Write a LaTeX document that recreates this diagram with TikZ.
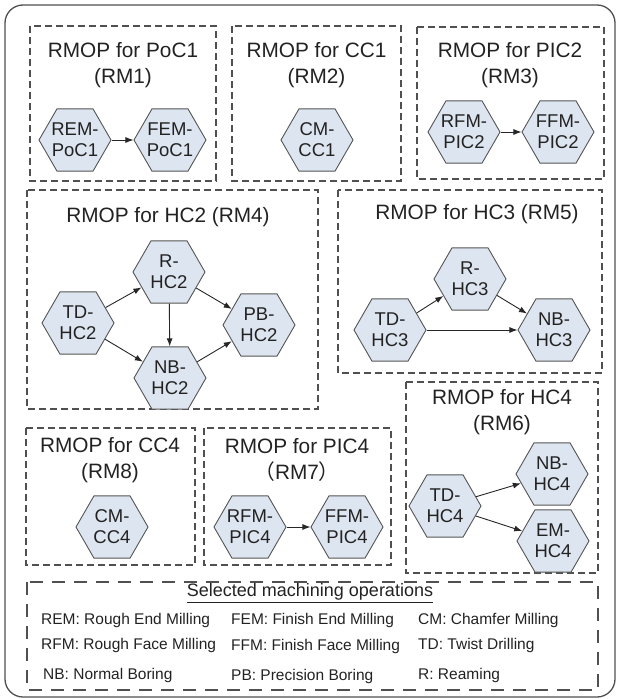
\documentclass[tikz,border=0pt]{standalone}
\usepackage{fontspec}
\setmainfont{Liberation Sans}
\newfontfamily\cjk{Noto Sans CJK SC}
\usetikzlibrary{shapes.geometric,arrows.meta}
\definecolor{hexfill}{HTML}{DDE5F0}
\definecolor{hexdraw}{HTML}{555555}
\definecolor{boxdraw}{HTML}{505050}
\definecolor{txt}{HTML}{222222}
\tikzset{
  hexnode/.style={regular polygon, regular polygon sides=6, minimum size=72pt, inner sep=0pt,
    draw=hexdraw, fill=hexfill, line width=0.9pt},
  hexlabel/.style={align=center, text=txt, font=\fontsize{18.5}{21}\selectfont, inner sep=0pt},
  groupbox/.style={draw=boxdraw, line width=1.1pt, dash pattern=on 7pt off 4pt},
  legendbox/.style={draw=boxdraw, line width=1.1pt, dash pattern=on 13pt off 9pt},
  titletext/.style={align=center, text=txt, font=\fontsize{20.8}{26}\selectfont, inner sep=0pt},
  legtext/.style={anchor=west, text=txt, font=\fontsize{15.5}{18}\selectfont, inner sep=0pt},
  flow/.style={draw=black!85, line width=0.9pt, -{Latex[length=8pt,width=6pt]}},
}
\newcommand{\hexn}[4]{\node[hexnode, label={[hexlabel]center:{#3\\#4}}] (#1) at (#2) {};}
\begin{document}
\begin{tikzpicture}[x=1pt,y=-1pt]
\useasboundingbox (0,0) rectangle (620,699);
% outer frame
\draw[draw=boxdraw, line width=1.3pt, rounded corners=18pt] (5,5) rectangle (615,697);

% group boxes
\draw[groupbox] (30,26) rectangle (216,181);
\draw[groupbox] (232,26) rectangle (401,181);
\draw[groupbox] (417,27) rectangle (604,179);
\draw[groupbox] (27,190) rectangle (318,409);
\draw[groupbox] (338,190) rectangle (602,373);
\draw[groupbox] (406,382) rectangle (598,573);
\draw[groupbox] (26,428) rectangle (195,565);
\draw[groupbox] (204,428) rectangle (391,565);
\draw[legendbox] (27,582) rectangle (598,690);

% titles
\node[titletext] (t1) at (123,65) {RMOP for PoC1\\(RM1)};
\node[titletext] (t2) at (316.5,65) {RMOP for CC1\\(RM2)};
\node[titletext] (t3) at (510,65) {RMOP for PIC2\\(RM3)};
\node[titletext] (t4) at (168,217) {RMOP for HC2 (RM4)};
\node[titletext] (t5) at (477,214) {RMOP for HC3 (RM5)};
\node[titletext] (t6) at (502,412) {RMOP for HC4\\(RM6)};
\node[titletext] (t8) at (110,460) {RMOP for CC4\\(RM8)};
\node[titletext] (t7) at (297,460) {RMOP for PIC4\\{\cjk （}RM7{\cjk ）}};

% RM1
\hexn{rem}{75,140}{REM-}{PoC1}
\hexn{fem}{170,140}{FEM-}{PoC1}
\draw[flow] (rem) -- (fem);
% RM2
\hexn{cm1}{317,140}{CM-}{CC1}
% RM3
\hexn{rfm2}{464,132}{RFM-}{PIC2}
\hexn{ffm2}{558,132}{FFM-}{PIC2}
\draw[flow] (rfm2) -- (ffm2);
% RM4
\hexn{td2}{78,323}{TD-}{HC2}
\hexn{r2}{169,272}{R-}{HC2}
\hexn{nb2}{170,378}{NB-}{HC2}
\hexn{pb2}{259,325}{PB-}{HC2}
\draw[flow] (td2) -- (r2);
\draw[flow] (td2) -- (nb2);
\draw[flow] (r2) -- (nb2);
\draw[flow] (r2) -- (pb2);
\draw[flow] (nb2) -- (pb2);
% RM5
\hexn{td3}{390,330}{TD-}{HC3}
\hexn{r3}{470,279}{R-}{HC3}
\hexn{nb3}{554,330}{NB-}{HC3}
\draw[flow] (td3) -- (r3);
\draw[flow] (r3) -- (nb3);
\draw[flow] (td3) -- (nb3);
% RM6
\hexn{td4}{445,506}{TD-}{HC4}
\hexn{nb4}{552,474}{NB-}{HC4}
\hexn{em4}{553,541}{EM-}{HC4}
\draw[flow] (td4) -- (nb4);
\draw[flow] (td4) -- (em4);
% RM8
\hexn{cm4}{112,527}{CM-}{CC4}
% RM7
\hexn{rfm4}{250,527}{RFM-}{PIC4}
\hexn{ffm4}{347,527}{FFM-}{PIC4}
\draw[flow] (rfm4) -- (ffm4);

% legend
\node[text=txt, font=\fontsize{18}{22}\selectfont, inner sep=0pt] (lt) at (310,593) {\underline{Selected machining operations}};
\node[legtext] (l1) at (41,620) {REM: Rough End Milling};
\node[legtext] (l2) at (231,620) {FEM: Finish End Milling};
\node[legtext] (l3) at (418,620) {CM: Chamfer Milling};
\node[legtext] (l4) at (41,645) {RFM: Rough Face Milling};
\node[legtext] (l5) at (231,646) {FFM: Finish Face Milling};
\node[legtext] (l6) at (418,645) {TD: Twist Drilling};
\node[legtext] (l7) at (43,675) {NB: Normal Boring};
\node[legtext] (l8) at (231,676) {PB: Precision Boring};
\node[legtext] (l9) at (418,675) {R: Reaming};
\end{tikzpicture}
\end{document}
